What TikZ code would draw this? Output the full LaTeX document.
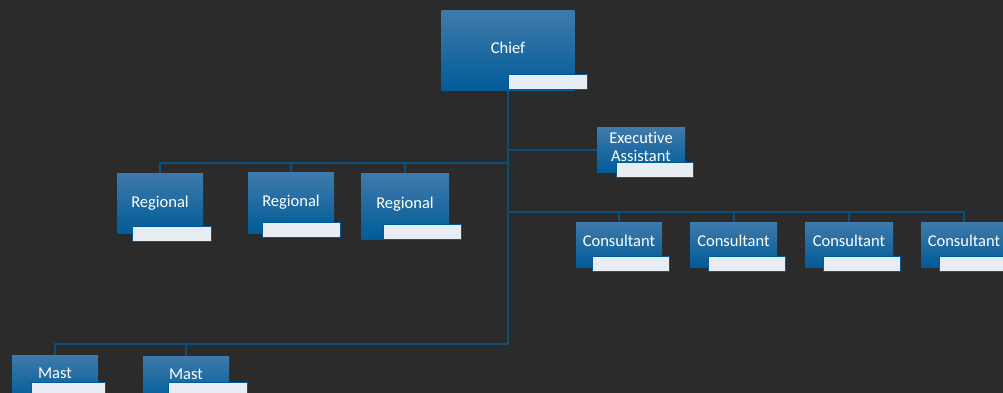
\documentclass[tikz,border=0pt]{standalone}
\usepackage{fontspec}
\setmainfont[Ligatures=NoCommon]{Carlito}
\usetikzlibrary{positioning,calc}

\definecolor{bgdark}{HTML}{2B2B2B}
\definecolor{boxtop}{HTML}{3F7AAB}
\definecolor{boxbot}{HTML}{005C98}
\definecolor{linkblue}{HTML}{0B4F7A}
\definecolor{tagfill}{HTML}{E7EDF3}

\begin{document}
\begin{tikzpicture}[x=1pt,y=-1pt,
    post/.style={rectangle, top color=boxtop, bottom color=boxbot, text=white, inner sep=0pt,
      align=center, font=\fontsize{16.5}{18}\selectfont},
    tag/.style={rectangle, fill=tagfill, draw=boxbot, line width=0.8pt, inner sep=0pt,
      minimum width=77pt, minimum height=15pt},
    link/.style={draw=linkblue, line width=2pt}]
        \useasboundingbox (0,0) rectangle (1003,393);
        \clip (0,0) rectangle (1003,393);
        \fill[bgdark] (0,0) rectangle (1003,393);

        % boxes
        \node[post, minimum width=133pt, minimum height=80pt, text depth=6pt] (chief) at (508,51) {Chief};
        \node[post, minimum width=88pt, minimum height=45pt, text depth=7pt] (exec) at (641,150) {Executive\\Assistant};
        \node[post, minimum width=86pt, minimum height=60pt] (reg1) at (160,203) {Regional};
        \node[post, minimum width=86pt, minimum height=61pt] (reg2) at (291,202.5) {Regional};
        \node[post, minimum width=88pt, minimum height=66pt, text depth=6pt] (reg3) at (405,206) {Regional};
        \node[post, minimum width=86pt, minimum height=45pt, text depth=7pt] (con1) at (619,244.5) {Consultant};
        \node[post, minimum width=87pt, minimum height=45pt, text depth=7pt] (con2) at (733.5,244.5) {Consultant};
        \node[post, minimum width=88pt, minimum height=45pt, text depth=7pt] (con3) at (849,244.5) {Consultant};
        \node[post, minimum width=86pt, minimum height=45pt, text depth=7pt] (con4) at (964,244.5) {Consultant};
        \node[post, minimum width=86pt, minimum height=45pt, text depth=8pt] (mast1) at (55,377.5) {Mast};
        \node[post, minimum width=86pt, minimum height=45pt, text depth=8pt] (mast2) at (186,378.5) {Mast};

        % junctions
        \coordinate (busE) at (chief.south |- exec.west);
        \coordinate (busR) at (508,163);
        \coordinate (busC) at (508,212);
        \coordinate (busM) at (508,344);

        \draw[link] (chief.south) -- (busM);
        \draw[link] (busE) -- (exec.west);
        \foreach \n in {reg1,reg2,reg3} \draw[link] (busR) -| (\n.north);
        \foreach \n in {con1,con2,con3,con4} \draw[link] (busC) -| (\n.north);
        \foreach \n in {mast1,mast2} \draw[link] (busM) -| (\n.north);

        % name tags
        \node[tag, minimum width=79pt] (tagChief) at (547.5,81.5) {};
        \node[tag] (tagExec) at (654.5,169.5) {};
        \node[tag, minimum width=79pt] (tagReg1) at (171.5,233.5) {};
        \node[tag, minimum width=78pt] (tagReg2) at (301,229.5) {};
        \node[tag, minimum width=78pt] (tagReg3) at (422,231.5) {};
        \node[tag] (tagCon1) at (630.5,264) {};
        \node[tag] (tagCon2) at (746.5,264) {};
        \node[tag] (tagCon3) at (861.5,264) {};
        \node[tag] (tagCon4) at (977.5,264) {};
        \node[tag, minimum width=74pt] (tagMast1) at (68,389.5) {};
        \node[tag, minimum width=79pt] (tagMast2) at (207.5,389.5) {};
\end{tikzpicture}
\end{document}
